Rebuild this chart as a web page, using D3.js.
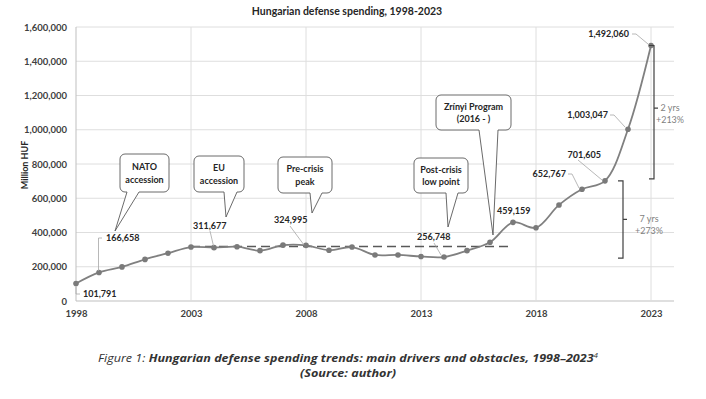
<!DOCTYPE html>
<html>
<head>
<meta charset="utf-8">
<script src="https://cdn.jsdelivr.net/npm/d3@7"></script>
<style>
  body { margin: 0; background: #fff; }
  svg text { font-family: Lato, "Open Sans", sans-serif; }
</style>
</head>
<body>
<div id="chart"></div>
<script>
var svgWidth = 706;
var svgHeight = 399;

// data
var years = [1998, 1999, 2000, 2001, 2002, 2003, 2004, 2005, 2006, 2007, 2008, 2009, 2010,
  2011, 2012, 2013, 2014, 2015, 2016, 2017, 2018, 2019, 2020, 2021, 2022, 2023];
var spending = [101791, 166658, 199000, 243000, 279000, 315000, 311677, 317000, 294000, 326000,
  324995, 296000, 315000, 269000, 269000, 260000, 256748, 294000, 343000, 459159,
  428000, 561000, 652767, 701605, 1003047, 1492060];
var xTicks = [1998, 2003, 2008, 2013, 2018, 2023];
var yTicks = [0, 200000, 400000, 600000, 800000, 1000000, 1200000, 1400000, 1600000];
var plateauLevel = 318000;
var plateauYears = [2003, 2016.8];
var labelled = [1998, 1999, 2004, 2008, 2014, 2017, 2020, 2021, 2022, 2023];
var callouts = [
  { lines: ["NATO", "accession"], tip: [115, 231], box: [120, 154, 49, 38], base: [127, 139] },
  { lines: ["EU", "accession"], tip: [226, 217], box: [194, 156, 50, 36], base: [224, 237] },
  { lines: ["Pre-crisis", "peak"], tip: [312, 213], box: [278, 157, 54, 36], base: [310, 322] },
  { lines: ["Post-crisis", "low point"], tip: [448, 227], box: [414, 158, 54, 35], base: [446, 458] },
  { lines: ["Zrínyi Program", "(2016 - )"], tip: [493, 235], box: [436, 95, 75, 35], base: [479, 498] }
];
var brackets = [
  { from: 701605, to: 1492060, text: ["2 yrs", "+213%"] },
  { from: 256748, to: 701605, text: ["7 yrs", "+273%"] }
];

var svg = d3.select("#chart").append("svg")
  .attr("width", svgWidth)
  .attr("height", svgHeight);

var x = d3.scaleLinear().domain([1998, 2024]).range([76, 674]);
var y = d3.scaleLinear().domain([0, 1600000]).range([301, 27]);

// gridlines
svg.append("g").selectAll("line").data(yTicks).enter().append("line")
  .attr("x1", x(1998)).attr("x2", x(2024))
  .attr("y1", d => y(d)).attr("y2", d => y(d))
  .attr("stroke", d => d === 0 ? "#bfbfbf" : "#dedede").attr("stroke-width", 1);
svg.append("g").selectAll("line").data(xTicks).enter().append("line")
  .attr("x1", d => x(d)).attr("x2", d => x(d))
  .attr("y1", y(0)).attr("y2", y(1600000))
  .attr("stroke", d => d === 1998 ? "#bfbfbf" : "#dedede").attr("stroke-width", 1);

// axes (labels only)
var leftAxis = d3.axisLeft(y).tickValues(yTicks).tickSize(0).tickPadding(9)
  .tickFormat(d3.format(",d"));
var bottomAxis = d3.axisBottom(x).tickValues(xTicks).tickSize(0).tickPadding(9)
  .tickFormat(d3.format("d"));
svg.append("g").attr("transform", `translate(${x(1998)},0)`).call(leftAxis)
  .call(g => g.select(".domain").remove())
  .selectAll("text").attr("font-size", 9.5).attr("font-weight", 700).attr("fill", "#404040")
  .attr("font-family", "Lato, sans-serif");
svg.append("g").attr("transform", `translate(0,${y(0)})`).call(bottomAxis)
  .call(g => g.select(".domain").remove())
  .selectAll("text").attr("font-size", 9.5).attr("font-weight", 700).attr("fill", "#404040")
  .attr("font-family", "Lato, sans-serif");

// title and axis label
svg.append("text").attr("x", 347).attr("y", 15).attr("text-anchor", "middle")
  .attr("font-size", 10.5).attr("font-weight", 700).attr("fill", "#262626")
  .text("Hungarian defense spending, 1998-2023");
svg.append("text").attr("transform", "translate(28,165) rotate(-90)")
  .attr("text-anchor", "middle").attr("font-size", 9).attr("font-weight", 700).attr("fill", "#262626")
  .text("Million HUF");

// dashed plateau line
svg.append("line")
  .attr("x1", x(plateauYears[0])).attr("x2", x(plateauYears[1]))
  .attr("y1", y(plateauLevel)).attr("y2", y(plateauLevel))
  .attr("stroke", "#595959").attr("stroke-width", 1.6).attr("stroke-dasharray", "9,5");

// series
var series = years.map((yr, i) => ({ year: yr, value: spending[i] }));
var line = d3.line().x(d => x(d.year)).y(d => y(d.value)).curve(d3.curveCatmullRom.alpha(0.5));
svg.append("path").datum(series).attr("d", line)
  .attr("fill", "none").attr("stroke", "#808080").attr("stroke-width", 1.8);
svg.append("g").selectAll("circle").data(series).enter().append("circle")
  .attr("cx", d => x(d.year)).attr("cy", d => y(d.value)).attr("r", 2.8)
  .attr("fill", "#7a7a7a");

// data labels with leader lines (pixel layout)
var labelLayout = {
  1998: { lx: 83, ly: 297, anchor: "start", leader: [[76, 287], [76, 294], [80, 294]] },
  1999: { lx: 106, ly: 241, anchor: "start", leader: [[102, 238], [98.5, 238], [98.5, 271]] },
  2004: { lx: 193, ly: 229, anchor: "start", leader: [[210, 231], [213.5, 246]] },
  2008: { lx: 274, ly: 223, anchor: "start", leader: [[290, 226], [304, 245]] },
  2014: { lx: 417, ly: 240, anchor: "start", leader: [[434, 243], [441, 255]] },
  2017: { lx: 497, ly: 214, anchor: "start", leader: [] },
  2020: { lx: 566, ly: 177, anchor: "end", leader: [[568, 174], [572, 174], [579, 188]] },
  2021: { lx: 601, ly: 158, anchor: "end", leader: [[578, 160], [602, 180]] },
  2022: { lx: 608, ly: 118, anchor: "end", leader: [[610, 115], [614, 115], [625, 127]] },
  2023: { lx: 629, ly: 37, anchor: "end", leader: [[632, 34], [636, 34], [648, 44]] }
};
labelled.forEach(function(yr) {
  var i = years.indexOf(yr);
  var L = labelLayout[yr];
  if (L.leader.length) {
    svg.append("path").attr("d", d3.line()(L.leader))
      .attr("fill", "none").attr("stroke", "#a6a6a6").attr("stroke-width", 0.8);
  }
  svg.append("text").attr("x", L.lx).attr("y", L.ly).attr("text-anchor", L.anchor)
    .attr("font-size", 9).attr("font-weight", 700).attr("fill", "#262626")
    .text(d3.format(",d")(spending[i]));
});

// speech-bubble callouts
callouts.forEach(function(c) {
  var bx = c.box[0], by = c.box[1], bw = c.box[2], bh = c.box[3], r = 5;
  var bottom = by + bh;
  var p = d3.path();
  p.moveTo(bx + r, by);
  p.lineTo(bx + bw - r, by);
  p.arcTo(bx + bw, by, bx + bw, by + r, r);
  p.lineTo(bx + bw, bottom - r);
  p.arcTo(bx + bw, bottom, bx + bw - r, bottom, r);
  p.lineTo(c.base[1], bottom);
  p.lineTo(c.tip[0], c.tip[1]);
  p.lineTo(c.base[0], bottom);
  p.lineTo(bx + r, bottom);
  p.arcTo(bx, bottom, bx, bottom - r, r);
  p.lineTo(bx, by + r);
  p.arcTo(bx, by, bx + r, by, r);
  p.closePath();
  svg.append("path").attr("d", p.toString())
    .attr("fill", "#fff").attr("stroke", "#595959").attr("stroke-width", 0.9);
  c.lines.forEach(function(t, k) {
    svg.append("text").attr("x", bx + bw / 2).attr("y", by + bh / 2 - 3 + k * 12.5)
      .attr("text-anchor", "middle").attr("font-size", 9).attr("font-weight", 700)
      .attr("fill", "#262626").text(t);
  });
});

// growth brackets
var bracketX = [654, 623];
var bracketGap = [-2, 1];
var bracketTextDx = [16, 26];
brackets.forEach(function(b, i) {
  var bx = bracketX[i];
  var y1 = y(b.to), y2 = y(b.from) + bracketGap[i];
  var mid = (y1 + y2) / 2 - (i === 0 ? 4 : 0);
  svg.append("path")
    .attr("d", `M${bx - 5},${y1}H${bx}V${y2}H${bx - 5}M${bx},${mid}H${bx + 4}`)
    .attr("fill", "none").attr("stroke", "#404040").attr("stroke-width", 1.2);
  b.text.forEach(function(t, k) {
    svg.append("text").attr("x", bx + bracketTextDx[i]).attr("y", mid + 3 + k * 12)
      .attr("text-anchor", "middle").attr("font-size", 9).attr("fill", "#7f7f7f").text(t);
  });
});

// caption (style() so it wins over the stylesheet font)
var cap = svg.append("text").attr("x", 348).attr("y", 362).attr("text-anchor", "middle")
  .attr("font-size", 11).attr("font-style", "italic").attr("fill", "#333")
  .style("font-family", "'Open Sans', sans-serif")
  .attr("textLength", 500).attr("lengthAdjust", "spacingAndGlyphs");
cap.append("tspan").text("Figure 1: ");
cap.append("tspan").attr("font-weight", 700)
  .text("Hungarian defense spending trends: main drivers and obstacles, 1998–2023");
cap.append("tspan").attr("font-size", 7).attr("dy", -4).text("4");
svg.append("text").attr("x", 348).attr("y", 377).attr("text-anchor", "middle")
  .attr("font-size", 11).attr("font-style", "italic").attr("font-weight", 700).attr("fill", "#333")
  .style("font-family", "'Open Sans', sans-serif")
  .attr("textLength", 96).attr("lengthAdjust", "spacingAndGlyphs")
  .text("(Source: author)");
</script>
</body>
</html>
